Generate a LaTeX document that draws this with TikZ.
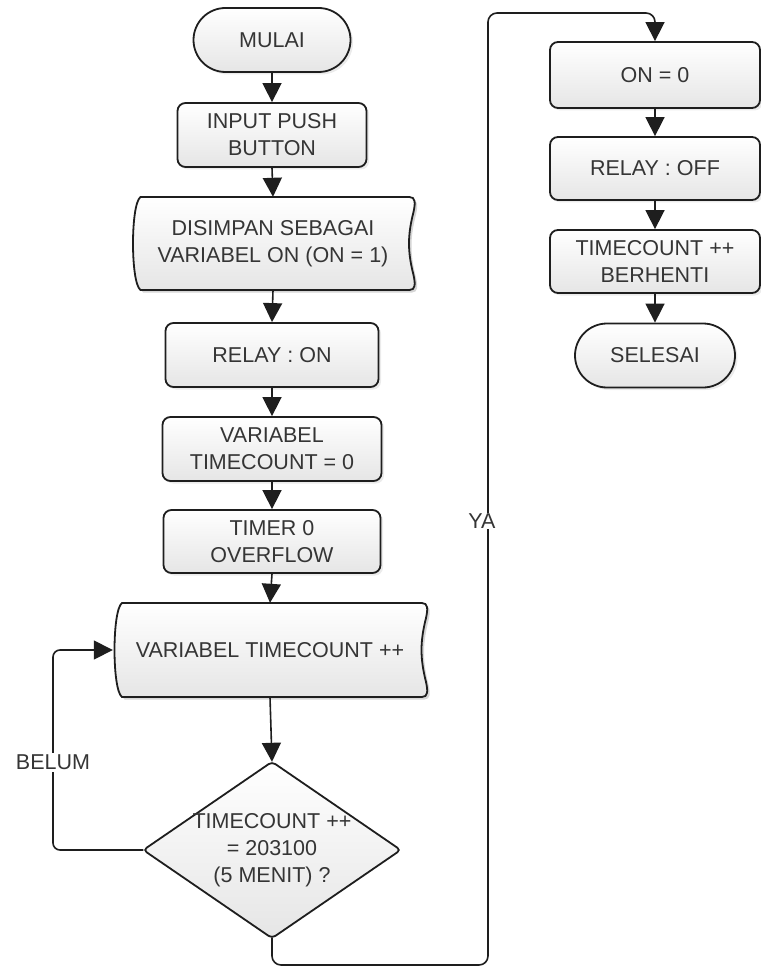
\documentclass[tikz,border=0pt]{standalone}
\usepackage{fontspec}
\setmainfont{Liberation Sans}
\usetikzlibrary{shapes.misc,arrows.meta,backgrounds,shadows}
\definecolor{ink}{HTML}{1E1E1E}
\definecolor{txt}{HTML}{353535}

% outline of a stored-data box centred on the origin: #1 half width, #2 half height
\newcommand\sdpath[2]{(-#1+9,-#2) -- (#1-5,-#2)
  .. controls (#1+1,-#2) and (#1+1,-#2+6) .. (#1-1,-#2+15)
  .. controls (#1-7,-8) and (#1-7,8) .. (#1-1,#2-15)
  .. controls (#1+1,#2-6) and (#1+1,#2) .. (#1-5,#2)
  -- (-#1+9,#2)
  .. controls (-#1-1,#2-7) and (-#1-1,-#2+7) .. (-#1+9,-#2) -- cycle}
% draws that outline behind node #1
\newcommand\storedbox[3]{%
  \begin{scope}[on background layer, shift={(#1.center)}]
    \fill[black, opacity=.16, shift={(2.5,2.5)}] \sdpath{#2}{#3};
    \draw[outline, boxfill] \sdpath{#2}{#3};
  \end{scope}}

\begin{document}
\begin{tikzpicture}[x=1pt, y=-1pt,
  every node/.style={font=\fontsize{21.5}{27}\selectfont, text=txt, align=center},
  boxfill/.style={top color=white, bottom color=black!10},
  outline/.style={draw=ink, line width=1.8pt},
  softshadow/.style={drop shadow={shadow xshift=2.5pt, shadow yshift=-2.5pt, opacity=.16}},
  proc/.style={outline, boxfill, softshadow, rounded corners=8pt, inner sep=0pt, minimum height=64pt},
  term/.style={rounded rectangle, outline, boxfill, softshadow, inner sep=0pt, minimum height=64pt},
  plain/.style={inner sep=0pt},
  flow/.style={draw=ink, line width=1.6pt, -{Triangle[length=19pt, width=19pt]}},
  tag/.style={fill=white, inner sep=2pt}]

\useasboundingbox (0,0) rectangle (760,968);

% ---- main column ----
\node[term, minimum width=157pt] (mulai) at (272,40) {MULAI};
\node[proc, minimum width=189pt] (inp) at (272,135) {INPUT PUSH\\BUTTON};
\node[plain, minimum width=283pt, minimum height=93pt] (simpan) at (273,243.5)
  {DISIMPAN SEBAGAI\\VARIABEL ON (ON = 1)};
\storedbox{simpan}{141.5}{46.5}
\node[proc, minimum width=213pt] (relayon) at (272,355) {RELAY : ON};
\node[proc, minimum width=219pt] (tc0) at (272,449) {VARIABEL\\TIMECOUNT = 0};
\node[proc, minimum width=217pt, minimum height=63pt] (timer) at (272,541.5) {TIMER 0\\OVERFLOW};
\node[plain, minimum width=314pt, minimum height=94pt] (tcinc) at (270,650) {VARIABEL TIMECOUNT ++};
\storedbox{tcinc}{157}{47}
\node[plain, minimum width=257pt, minimum height=176pt] (cek) at (272,850)
  {TIMECOUNT ++\\= 203100\\(5 MENIT) ?};
\begin{scope}[on background layer]
  \fill[black, opacity=.16, shift={(2.5,2.5)}, rounded corners=4pt]
    (cek.north) -- (cek.east) -- (cek.south) -- (cek.west) -- cycle;
  \draw[outline, boxfill, rounded corners=4pt]
    (cek.north) -- (cek.east) -- (cek.south) -- (cek.west) -- cycle;
\end{scope}

% ---- right column ----
\node[proc, minimum width=210pt, minimum height=66pt] (on0) at (655,75) {ON = 0};
\node[proc, minimum width=210pt, minimum height=63pt] (roff) at (655,168.5) {RELAY : OFF};
\node[proc, minimum width=210pt, minimum height=63pt] (tstop) at (655,261.5) {TIMECOUNT ++\\BERHENTI};
\node[term, minimum width=160pt] (selesai) at (655,355.5) {SELESAI};

% ---- connectors ----
\draw[flow] (mulai.south) -- (inp.north);
\draw[flow] (inp.south) -- (simpan.north);
\draw[flow] (simpan.south) -- (relayon.north);
\draw[flow] (relayon.south) -- (tc0.north);
\draw[flow] (tc0.south) -- (timer.north);
\draw[flow] (timer.south) -- (tcinc.north);
\draw[flow] (tcinc.south) -- (cek.north);

% not yet: back to the counter
\coordinate (loopx) at (53,750);
\draw[flow, rounded corners=7pt] (cek.west) -- (cek.west -| loopx) -- (loopx |- tcinc.west) -- (tcinc.west);
\node[tag] (belum) at (53,762) {BELUM};

% yes: over to the right column
\coordinate (ya1) at (272,965);
\coordinate (ya2) at (488,965);
\coordinate (ya3) at (488,13);
\coordinate (ya4) at (655,13);
\draw[flow, rounded corners=9pt] (cek.south) -- (ya1) -- (ya2) -- (ya3) -- (ya4) -- (on0.north);
\node[tag, inner sep=1pt] (ya) at (482,521) {YA};

\draw[flow] (on0.south) -- (roff.north);
\draw[flow] (roff.south) -- (tstop.north);
\draw[flow] (tstop.south) -- (selesai.north);
\end{tikzpicture}
\end{document}
